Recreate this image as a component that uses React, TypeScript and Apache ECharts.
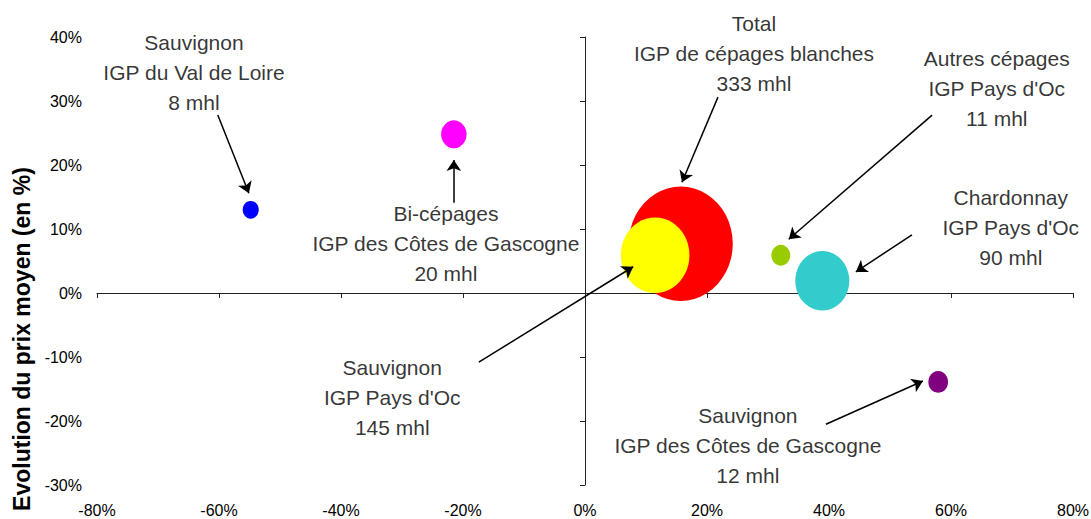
import React, { useEffect, useRef } from "react";
import * as echarts from "echarts";

// ---- data ----
const bubbleNames = [
  "Sauvignon IGP du Val de Loire",
  "Bi-cépages IGP des Côtes de Gascogne",
  "Total IGP de cépages blanches",
  "Sauvignon IGP Pays d'Oc",
  "Autres cépages IGP Pays d'Oc",
  "Chardonnay IGP Pays d'Oc",
  "Sauvignon IGP des Côtes de Gascogne",
];
const volumeChange = [-54.8, -21.5, 15.7, 11.5, 32.1, 38.9, 57.9]; // x, %
const priceChange = [13.0, 24.8, 7.7, 5.9, 5.9, 1.9, -13.9]; // y, %
const volumesMhl = [8, 20, 333, 145, 11, 90, 12];
const bubbleColors = ["#0000FF", "#FF00FF", "#FF0000", "#FFFF00", "#99CC00", "#33CCCC", "#800080"];

const xTicks = { min: -80, max: 80, step: 20 };
const yTicks = { min: -30, max: 40, step: 10 };
const yAxisTitle = "Evolution du prix moyen (en %)";

// annotations (data coordinates)
const annotationTexts = [
  "Sauvignon\nIGP du Val de Loire\n8 mhl",
  "Bi-cépages\nIGP des Côtes de Gascogne\n20 mhl",
  "Total\nIGP de cépages blanches\n333 mhl",
  "Autres cépages\nIGP Pays d'Oc\n11 mhl",
  "Chardonnay\nIGP Pays d'Oc\n90 mhl",
  "Sauvignon\nIGP Pays d'Oc\n145 mhl",
  "Sauvignon\nIGP des Côtes de Gascogne\n12 mhl",
];
const annotationAt: [number, number][] = [
  [-64.1, 34.5],
  [-22.8, 7.8],
  [27.7, 37.5],
  [67.5, 31.9],
  [69.8, 10.2],
  [-31.6, -16.4],
  [26.7, -23.75],
];
const arrowFrom: [number, number][] = [
  [-60.2, 27.8],
  [-21.5, 14.1],
  [21.8, 30.6],
  [56.9, 27.8],
  [53.6, 9.1],
  [-17.4, -10.8],
  [39.5, -20.5],
];
const arrowTo: [number, number][] = [
  [-55.1, 15.6],
  [-21.5, 20.8],
  [15.9, 17.3],
  [33.4, 8.4],
  [44.4, 3.3],
  [7.9, 4.1],
  [55.4, -13.75],
];

const FONT = "'Liberation Sans', Arial, sans-serif";

export default function App() {
  const ref = useRef<HTMLDivElement>(null);
  useEffect(() => {
    if (!ref.current) return;
    const chart = echarts.init(ref.current, undefined, { renderer: "svg" });
    const pct = (v: number) => `${v}%`;
    const option: any = {
      animation: false,
      backgroundColor: "#fff",
      textStyle: { fontFamily: FONT },
      grid: { left: 97, right: 18, top: 37, bottom: 34, containLabel: false, outerBoundsMode: "none" },
      xAxis: [
        {
          type: "value",
          min: xTicks.min,
          max: xTicks.max,
          interval: xTicks.step,
          position: "bottom",
          axisLine: { show: false, onZero: false },
          axisTick: { show: false },
          splitLine: { show: false },
          axisLabel: { formatter: pct, fontSize: 16, color: "#000", margin: 17, fontFamily: FONT },
        },
        {
          type: "value",
          min: xTicks.min,
          max: xTicks.max,
          interval: xTicks.step,
          position: "top",
          axisLine: { show: true, onZero: true, lineStyle: { color: "#222", width: 1 } },
          axisTick: { show: true, inside: true, length: 5, lineStyle: { color: "#222" } },
          splitLine: { show: false },
          axisLabel: { show: false },
        },
      ],
      yAxis: [
        {
          type: "value",
          min: yTicks.min,
          max: yTicks.max,
          interval: yTicks.step,
          position: "left",
          axisLine: { show: false, onZero: false },
          axisTick: { show: false },
          splitLine: { show: false },
          axisLabel: { formatter: pct, fontSize: 16, color: "#000", margin: 15, fontFamily: FONT },
        },
        {
          type: "value",
          min: yTicks.min,
          max: yTicks.max,
          interval: yTicks.step,
          position: "right",
          axisLine: { show: true, onZero: true, lineStyle: { color: "#222", width: 1 } },
          axisTick: { show: true, inside: true, length: 5, lineStyle: { color: "#222" } },
          splitLine: { show: false },
          axisLabel: { show: false },
        },
      ],
      series: [
        {
          type: "scatter",
          xAxisIndex: 0,
          yAxisIndex: 0,
          symbol: "circle",
          symbolSize: (val: number[]) => {
            const d = 5.7 * Math.sqrt(val[2]);
            return [d, d * 1.1];
          },
          data: bubbleNames.map((n, i) => ({
            name: n,
            value: [volumeChange[i], priceChange[i], volumesMhl[i]],
            itemStyle: { color: bubbleColors[i], opacity: 1 },
          })),
          emphasis: { disabled: true },
          silent: true,
          z: 2,
        },
        {
          type: "scatter",
          xAxisIndex: 0,
          yAxisIndex: 0,
          symbolSize: 1,
          itemStyle: { color: "rgba(0,0,0,0)" },
          silent: true,
          z: 5,
          clip: false,
          data: annotationTexts.map((t, i) => ({ name: t, value: annotationAt[i] })),
          label: {
            show: true,
            position: "inside",
            formatter: "{b}",
            fontSize: 21,
            lineHeight: 30,
            color: "#000",
            align: "center",
            fontFamily: FONT,
          },
          labelLayout: { hideOverlap: false },
          emphasis: { disabled: true },
          markLine: {
            silent: true,
            symbol: ["none", "arrow"],
            symbolSize: 11,
            itemStyle: { color: "#000" },
            lineStyle: { color: "#000", width: 1.5, type: "solid" },
            label: { show: false },
            emphasis: { disabled: true },
            data: arrowFrom.map((f, i) => [
              { coord: f, itemStyle: { color: "#000" } },
              { coord: arrowTo[i], itemStyle: { color: "#000" } },
            ]),
          },
        },
      ],
      graphic: [
        {
          type: "text",
          x: 22,
          y: 339,
          rotation: Math.PI / 2,
          style: {
            text: yAxisTitle,
            font: `bold 23px ${FONT}`,
            fill: "#000",
            textAlign: "center",
            textVerticalAlign: "middle",
          },
        },
      ],
    };
    chart.setOption(option);
    return () => chart.dispose();
  }, []);
  return (
    <div
      ref={ref}
      style={{ position: "absolute", left: 0, top: 0, width: 1091, height: 519, background: "#fff" }}
    />
  );
}
